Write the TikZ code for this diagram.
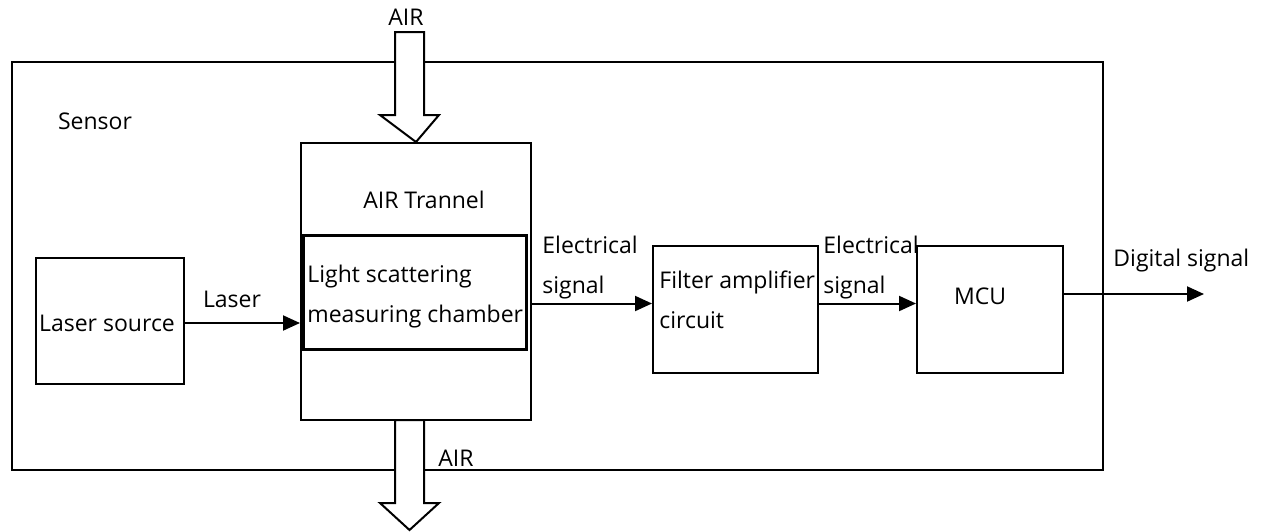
\documentclass[tikz,border=0pt]{standalone}
\usepackage{fontspec}
\setmainfont{Open Sans}
\usetikzlibrary{arrows.meta,positioning,calc}

\begin{document}
\begin{tikzpicture}[x=0.5pt, y=-0.5pt,
  font=\fontsize{11.5}{13}\selectfont,
  block/.style={draw, line width=1pt, inner sep=0pt},
  flow/.style={-{Triangle[length=8.5pt,width=7.5pt]}, line width=1pt},
  airarrow/.style={draw, line width=1pt, fill=white, line join=miter}]
\useasboundingbox (0,0) rectangle (1263,531);
% sensor frame
\draw[line width=1pt] (12,62) rectangle (1103,470);
\node[anchor=center] (sensor) at (95,121) {Sensor};
% boxes
\node[block, minimum width=74pt, minimum height=63pt] (laser) at (110,321) {};
\node[block, minimum width=115pt, minimum height=138.5pt] (trannel) at (416,281.5) {};
\node[block, line width=1.5pt, minimum width=111.5pt, minimum height=57pt] (chamber) at (414.5,292) {};
\node[block, minimum width=82.5pt, minimum height=63.5pt] (filter) at (735.5,309.5) {};
\node[block, minimum width=73pt, minimum height=63.5pt] (mcu) at (990,309.5) {};
% texts in boxes
\node (lasertext) at (107,323) {Laser source};
\node (trannelname) at (424,200) {AIR Trannel};
\node[anchor=west, align=left, inner sep=0pt] (chambertext) at (307,297)
  {Light scattering\\[7pt]measuring chamber};
\node[anchor=west, align=left, inner sep=0pt] (filtertext) at (659,300)
  {Filter amplifier\\[7pt]circuit};
\node (mcutext) at (980,296) {MCU};
% air flow in and out
\draw[airarrow] (395,32) -- (424,32) -- (424,115) -- (439,115) -- (trannel.north)
  -- (380,115) -- (395,115) -- cycle;
\draw[airarrow] (395,420) -- (424,420) -- (424,503) -- (439,503) -- (409.5,530)
  -- (380,503) -- (395,503) -- cycle;
\node (airin) at (406,17) {AIR};
\node (airout) at (456,458) {AIR};
% signal path
\coordinate (out) at (1204,294);
\draw[flow] (laser.east |- 0,323) -- (trannel.west |- 0,323);
\node (laserlabel) at (232,299) {Laser};
\draw[flow] (trannel.east |- 0,303.5) -- (filter.west |- 0,303.5);
\node[anchor=west, align=left, inner sep=0pt] (elec1) at (542,268)
  {Electrical\\[7pt]signal};
\draw[flow] (filter.east |- 0,303.5) -- (mcu.west |- 0,303.5);
\node[anchor=west, align=left, inner sep=0pt] (elec2) at (823,268)
  {Electrical\\[7pt]signal};
\draw[flow] (mcu.east |- out) -- (out);
\node[anchor=west, inner sep=0pt] (digital) at (1113,261) {Digital signal};
\end{tikzpicture}
\end{document}
